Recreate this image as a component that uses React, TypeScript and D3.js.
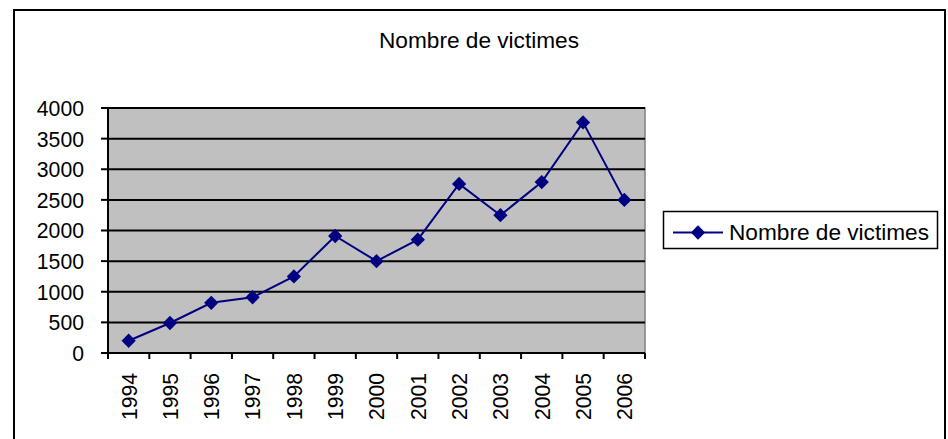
import { useEffect } from 'react'
import * as d3 from 'd3'

const YEARS = ['1994', '1995', '1996', '1997', '1998', '1999', '2000', '2001', '2002', '2003', '2004', '2005', '2006']
const VICTIMS = [200, 490, 820, 910, 1250, 1910, 1500, 1850, 2760, 2250, 2790, 3765, 2500]
const Y_TICKS = [0, 500, 1000, 1500, 2000, 2500, 3000, 3500, 4000]
const TITLE = 'Nombre de victimes'
const SERIES = 'Nombre de victimes'

const W = 948
const H = 439
const plot = { left: 108, right: 645, top: 108, bottom: 353 }
const FONT = 'Arial, "Liberation Sans", sans-serif'
const NAVY = '#000080'

export default function App() {
  useEffect(() => {
    document.body.style.margin = '0'
  }, [])

  const x = d3.scaleBand<string>().domain(YEARS).range([plot.left, plot.right])
  const y = d3.scaleLinear().domain([0, 4000]).range([plot.bottom, plot.top])

  const line = d3
    .line<number>()
    .x((_, i) => (x(YEARS[i]) ?? 0) + x.bandwidth() / 2)
    .y((d) => y(d))

  const diamond = d3.symbol(d3.symbolDiamond2, 130)()

  return (
    <svg width={W} height={H} style={{ display: 'block', background: '#fff' }} fontFamily={FONT}>
      {/* outer chart frame */}
      <rect x={14} y={10} width={931} height={460} fill="none" stroke="#000" strokeWidth={2} />

      <text x={479} y={48} textAnchor="middle" fontSize={22} textLength={200} lengthAdjust="spacingAndGlyphs">
        {TITLE}
      </text>

      {/* plot area */}
      <rect
        x={plot.left}
        y={plot.top}
        width={plot.right - plot.left}
        height={plot.bottom - plot.top}
        fill="#c0c0c0"
        stroke="#808080"
        strokeWidth={1.5}
      />

      {Y_TICKS.filter((t) => t > 0).map((t) => (
        <line key={t} x1={plot.left} x2={plot.right} y1={y(t)} y2={y(t)} stroke="#000" strokeWidth={2} />
      ))}

      {/* y axis */}
      <line x1={plot.left} x2={plot.left} y1={plot.top} y2={plot.bottom} stroke="#000" strokeWidth={2} />
      {Y_TICKS.map((t) => (
        <g key={t}>
          <line x1={plot.left - 7} x2={plot.left} y1={y(t)} y2={y(t)} stroke="#000" strokeWidth={2} />
          <text
            x={84}
            y={y(t)}
            dy="0.36em"
            textAnchor="end"
            fontSize={22}
            textLength={String(t).length * 11.8}
            lengthAdjust="spacingAndGlyphs"
          >
            {t}
          </text>
        </g>
      ))}

      {/* x axis */}
      <line x1={plot.left} x2={plot.right} y1={plot.bottom} y2={plot.bottom} stroke="#000" strokeWidth={2} />
      {YEARS.map((yr) => (
        <line
          key={'t' + yr}
          x1={x(yr) ?? 0}
          x2={x(yr) ?? 0}
          y1={plot.bottom}
          y2={plot.bottom + 6}
          stroke="#000"
          strokeWidth={2}
        />
      ))}
      <line x1={plot.right} x2={plot.right} y1={plot.bottom} y2={plot.bottom + 6} stroke="#000" strokeWidth={2} />
      {YEARS.map((yr) => {
        const cx = (x(yr) ?? 0) + x.bandwidth() / 2
        return (
          <text
            key={yr}
            transform={`translate(${cx},373) rotate(-90)`}
            dy="0.36em"
            textAnchor="end"
            fontSize={22}
            textLength={47}
            lengthAdjust="spacingAndGlyphs"
          >
            {yr}
          </text>
        )
      })}

      {/* series */}
      <path d={line(VICTIMS) ?? ''} fill="none" stroke={NAVY} strokeWidth={2} />
      {VICTIMS.map((v, i) => (
        <path
          key={i}
          d={diamond ?? ''}
          transform={`translate(${(x(YEARS[i]) ?? 0) + x.bandwidth() / 2},${y(v)})`}
          fill={NAVY}
        />
      ))}

      {/* legend */}
      <rect x={663.5} y={211.5} width={274} height={37} fill="#fff" stroke="#000" strokeWidth={1.5} />
      <line x1={673} x2={723} y1={232.5} y2={232.5} stroke={NAVY} strokeWidth={2} />
      <path d={diamond ?? ''} transform="translate(698,232.5)" fill={NAVY} />
      <text x={729} y={232.5} dy="0.36em" fontSize={22} textLength={200} lengthAdjust="spacingAndGlyphs">
        {SERIES}
      </text>
    </svg>
  )
}
